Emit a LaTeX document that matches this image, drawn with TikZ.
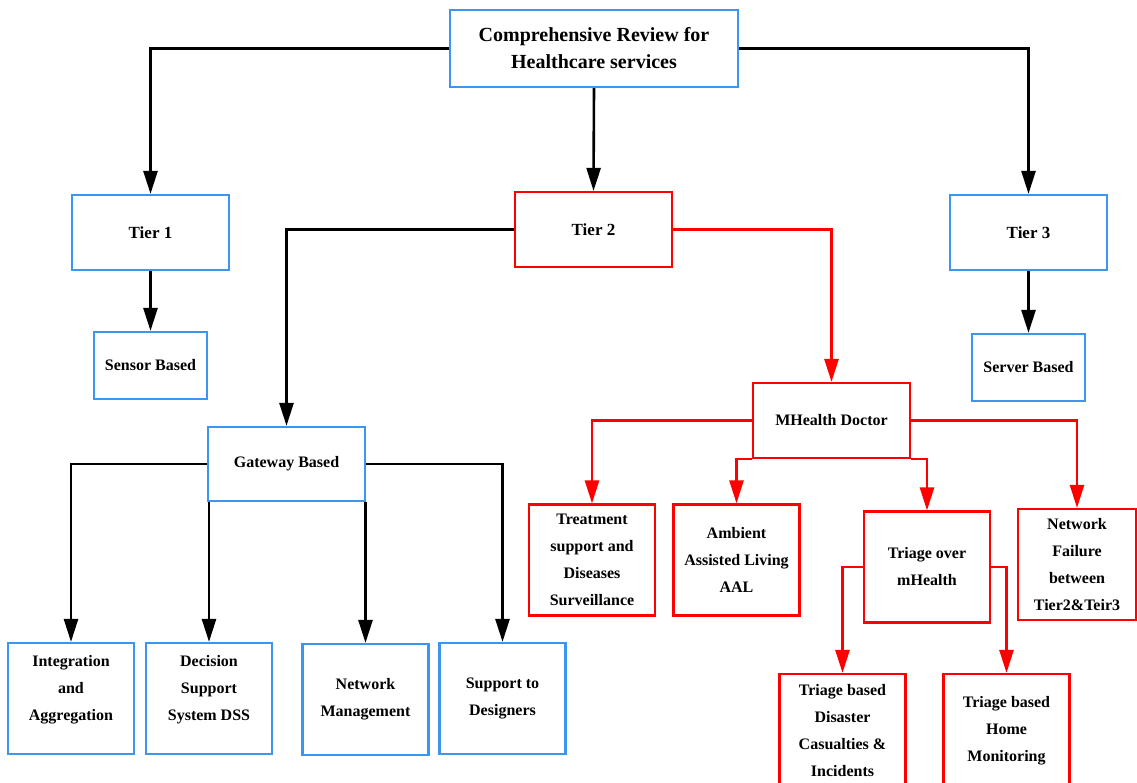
\documentclass[tikz,border=0pt]{standalone}
\usepackage{fontspec}
\setmainfont{Liberation Serif}
\usetikzlibrary{arrows.meta}
\definecolor{boxblue}{RGB}{60,150,240}

\begin{document}
\begin{tikzpicture}[x=1pt,y=-1pt,->,>={Triangle[length=23pt,width=14pt]},
                    line width=2.6pt,
                    main node/.style={rectangle,draw=boxblue,line width=2.2pt,align=center,inner sep=0pt,
                                      font=\bfseries\fontsize{16}{27}\selectfont},
                    red node/.style={main node,draw=red},
                    tier node/.style={minimum width=157pt,minimum height=75pt,font=\bfseries\fontsize{17}{27}\selectfont},
                    leaf node/.style={minimum width=126pt,minimum height=111pt}]
  \useasboundingbox (0,0) rectangle (1137,783);

  \node[main node,minimum width=288pt,minimum height=77pt,font=\bfseries\fontsize{20}{27}\selectfont]
    (review) at (594,48.5) {Comprehensive Review for\\Healthcare services};

  \node[main node,tier node] (t1) at (150.5,232.5) {Tier 1};
  \node[red node,tier node]  (t2) at (593.5,229.5) {Tier 2};
  \node[main node,tier node] (t3) at (1028.5,232.5) {Tier 3};

  \node[main node,minimum width=113pt,minimum height=67pt] (sensor) at (150.5,365.5) {Sensor Based};
  \node[main node,minimum width=113pt,minimum height=67pt] (server) at (1028.5,367.5) {Server Based};

  \node[main node,minimum width=157pt,minimum height=74pt] (gw) at (286.5,464) {Gateway Based};
  \node[red node,minimum width=157pt,minimum height=75pt] (doc) at (831.5,420.5) {MHealth Doctor};

  \node[main node,leaf node] (integ) at (71,698.5) {Integration\\and\\Aggregation\\[-6pt]\mbox{}};
  \node[main node,leaf node] (dss) at (209,698.5) {Decision\\Support\\System DSS\\[-6pt]\mbox{}};
  \node[main node,leaf node] (netman) at (365.5,699.5) {Network\\Management};
  \node[main node,leaf node] (design) at (502.5,698.5) {Support to\\Designers};

  \node[red node,leaf node] (treat) at (592,560) {Treatment\\support and\\Diseases\\Surveillance};
  \node[red node,leaf node] (aal) at (736.5,560) {Ambient\\Assisted Living\\AAL};
  \node[red node,leaf node] (triage) at (927,567) {Triage over\\mHealth};
  \node[red node,leaf node,minimum width=118pt] (fail) at (1077,564.5) {Network\\Failure\\between\\Tier2\&Teir3};

  \node[red node,leaf node,minimum height=114pt] (disaster) at (842.5,731) {Triage based\\Disaster\\Casualties \&\\Incidents};
  \node[red node,leaf node,minimum height=114pt] (home) at (1006.5,731) {Triage based\\Home\\Monitoring};

  % black links
  \draw (review.west) -| (t1.north);
  \draw (review.east) -| (t3.north);
  \draw (review.south) -- (t2.north);
  \draw (t1.south) -- (sensor.north);
  \draw (t3.south) -- (server.north);
  \draw (t2.west) -| (gw.north);
  \draw (gw.west) -| (integ.north);
  \draw (dss.north |- gw.south) -- (dss.north);
  \draw (netman.north |- gw.south) -- (netman.north);
  \draw (gw.east) -| (design.north);

  % red links
  \begin{scope}[red]
    \draw (t2.east) -| (doc.north);
    \draw (doc.west) -| (treat.north);
    \draw (doc.south west) -| (aal.north);
    \draw (doc.south east) -| (triage.north);
    \draw (doc.east) -| (fail.north);
    \draw (triage.west) -| (disaster.north);
    \draw (triage.east) -| (home.north);
  \end{scope}
\end{tikzpicture}
\end{document}
